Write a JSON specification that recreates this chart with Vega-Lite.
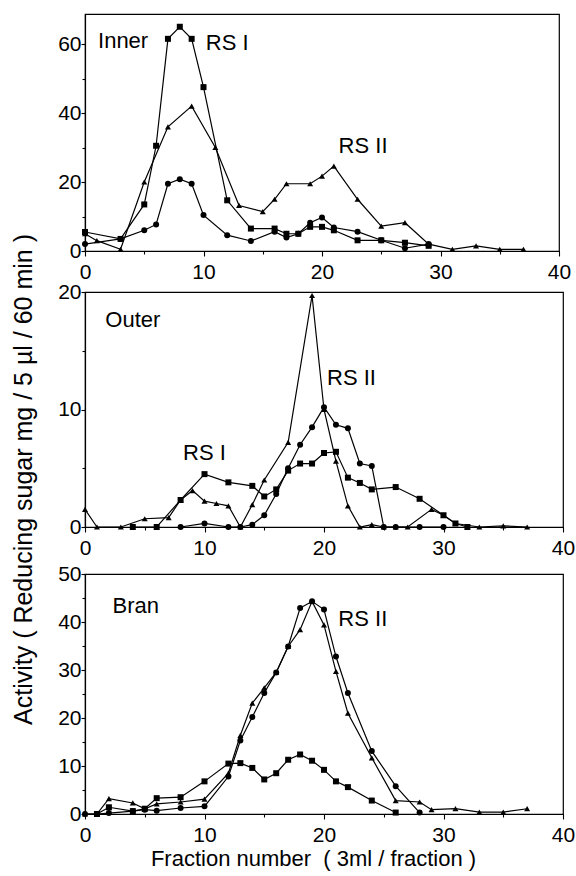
{
  "$schema": "https://vega.github.io/schema/vega-lite/v6.json",
  "padding": {"left": 10, "top": 13, "right": 5, "bottom": 2},
  "background": "white",
  "config": {
    "font": "Liberation Sans",
    "view": {"stroke": "black", "strokeWidth": 1.2},
    "axis": {"grid": false, "domainColor": "black", "domainWidth": 1.2, "tickColor": "black", "tickWidth": 1.1, "labelColor": "black", "labelFontSize": 21, "labelFont": "Liberation Sans", "titleColor": "black", "titleFontWeight": "normal", "titleFontSize": 21, "titleFont": "Liberation Sans", "labelOverlap": false, "labelFlush": false}
  },
  "datasets": {
    "curves": [
      {"panel": "Inner", "series": "sq", "x": 0, "y": 5.5}, {"panel": "Inner", "series": "sq", "x": 3, "y": 3.5}, {"panel": "Inner", "series": "sq", "x": 5, "y": 13.5}, {"panel": "Inner", "series": "sq", "x": 6, "y": 30.5}, {"panel": "Inner", "series": "sq", "x": 7, "y": 61.5}, {"panel": "Inner", "series": "sq", "x": 8, "y": 65}, {"panel": "Inner", "series": "sq", "x": 9, "y": 61.5}, {"panel": "Inner", "series": "sq", "x": 10, "y": 47.5}, {"panel": "Inner", "series": "sq", "x": 12, "y": 14.7}, {"panel": "Inner", "series": "sq", "x": 14, "y": 6.5}, {"panel": "Inner", "series": "sq", "x": 16, "y": 6.5}, {"panel": "Inner", "series": "sq", "x": 17, "y": 5}, {"panel": "Inner", "series": "sq", "x": 18, "y": 5}, {"panel": "Inner", "series": "sq", "x": 19, "y": 7}, {"panel": "Inner", "series": "sq", "x": 20, "y": 7}, {"panel": "Inner", "series": "sq", "x": 21, "y": 6}, {"panel": "Inner", "series": "sq", "x": 23, "y": 3.1}, {"panel": "Inner", "series": "sq", "x": 25, "y": 3.1}, {"panel": "Inner", "series": "sq", "x": 27, "y": 2.4}, {"panel": "Inner", "series": "sq", "x": 29, "y": 1.5},
      {"panel": "Inner", "series": "tri", "x": 0, "y": 5}, {"panel": "Inner", "series": "tri", "x": 1, "y": 3}, {"panel": "Inner", "series": "tri", "x": 3, "y": 0.5}, {"panel": "Inner", "series": "tri", "x": 5, "y": 20}, {"panel": "Inner", "series": "tri", "x": 7, "y": 36}, {"panel": "Inner", "series": "tri", "x": 9, "y": 42}, {"panel": "Inner", "series": "tri", "x": 11, "y": 30}, {"panel": "Inner", "series": "tri", "x": 13, "y": 13.2}, {"panel": "Inner", "series": "tri", "x": 15, "y": 11.4}, {"panel": "Inner", "series": "tri", "x": 16, "y": 15}, {"panel": "Inner", "series": "tri", "x": 17, "y": 19.5}, {"panel": "Inner", "series": "tri", "x": 19, "y": 19.5}, {"panel": "Inner", "series": "tri", "x": 20, "y": 21.7}, {"panel": "Inner", "series": "tri", "x": 21, "y": 24.6}, {"panel": "Inner", "series": "tri", "x": 23, "y": 15}, {"panel": "Inner", "series": "tri", "x": 25, "y": 7.2}, {"panel": "Inner", "series": "tri", "x": 27, "y": 8.2}, {"panel": "Inner", "series": "tri", "x": 29, "y": 2}, {"panel": "Inner", "series": "tri", "x": 31, "y": 0.5}, {"panel": "Inner", "series": "tri", "x": 33, "y": 1.5}, {"panel": "Inner", "series": "tri", "x": 35, "y": 0.5}, {"panel": "Inner", "series": "tri", "x": 37, "y": 0.5},
      {"panel": "Inner", "series": "circ", "x": 0, "y": 2}, {"panel": "Inner", "series": "circ", "x": 3, "y": 3.5}, {"panel": "Inner", "series": "circ", "x": 5, "y": 6}, {"panel": "Inner", "series": "circ", "x": 6, "y": 7.7}, {"panel": "Inner", "series": "circ", "x": 7, "y": 19.5}, {"panel": "Inner", "series": "circ", "x": 8, "y": 20.8}, {"panel": "Inner", "series": "circ", "x": 9, "y": 19.5}, {"panel": "Inner", "series": "circ", "x": 10, "y": 10.4}, {"panel": "Inner", "series": "circ", "x": 12, "y": 4.6}, {"panel": "Inner", "series": "circ", "x": 14, "y": 2.9}, {"panel": "Inner", "series": "circ", "x": 16, "y": 5.6}, {"panel": "Inner", "series": "circ", "x": 17, "y": 3.9}, {"panel": "Inner", "series": "circ", "x": 18, "y": 5}, {"panel": "Inner", "series": "circ", "x": 19, "y": 8.2}, {"panel": "Inner", "series": "circ", "x": 20, "y": 9.7}, {"panel": "Inner", "series": "circ", "x": 21, "y": 6.8}, {"panel": "Inner", "series": "circ", "x": 23, "y": 5.6}, {"panel": "Inner", "series": "circ", "x": 25, "y": 3.1}, {"panel": "Inner", "series": "circ", "x": 27, "y": 0.8}, {"panel": "Inner", "series": "circ", "x": 29, "y": 2},

      {"panel": "Outer", "series": "tri", "x": 0, "y": 1.5}, {"panel": "Outer", "series": "tri", "x": 1, "y": 0}, {"panel": "Outer", "series": "tri", "x": 3, "y": 0}, {"panel": "Outer", "series": "tri", "x": 5, "y": 0.7}, {"panel": "Outer", "series": "tri", "x": 7, "y": 0.8}, {"panel": "Outer", "series": "tri", "x": 8, "y": 2.3}, {"panel": "Outer", "series": "tri", "x": 9, "y": 3.1}, {"panel": "Outer", "series": "tri", "x": 10, "y": 2.2}, {"panel": "Outer", "series": "tri", "x": 11, "y": 2.0}, {"panel": "Outer", "series": "tri", "x": 12, "y": 1.8}, {"panel": "Outer", "series": "tri", "x": 13, "y": 0}, {"panel": "Outer", "series": "tri", "x": 14, "y": 1.9}, {"panel": "Outer", "series": "tri", "x": 15, "y": 4.0}, {"panel": "Outer", "series": "tri", "x": 17, "y": 7.2}, {"panel": "Outer", "series": "tri", "x": 19, "y": 19.7}, {"panel": "Outer", "series": "tri", "x": 20, "y": 10}, {"panel": "Outer", "series": "tri", "x": 21, "y": 5.6}, {"panel": "Outer", "series": "tri", "x": 22, "y": 1.8}, {"panel": "Outer", "series": "tri", "x": 23, "y": 0}, {"panel": "Outer", "series": "tri", "x": 24, "y": 0.2}, {"panel": "Outer", "series": "tri", "x": 25, "y": 0}, {"panel": "Outer", "series": "tri", "x": 26, "y": 0}, {"panel": "Outer", "series": "tri", "x": 27, "y": 0}, {"panel": "Outer", "series": "tri", "x": 29, "y": 1.5}, {"panel": "Outer", "series": "tri", "x": 30, "y": 1.0}, {"panel": "Outer", "series": "tri", "x": 31, "y": 0.3}, {"panel": "Outer", "series": "tri", "x": 33, "y": 0}, {"panel": "Outer", "series": "tri", "x": 35, "y": 0.1}, {"panel": "Outer", "series": "tri", "x": 37, "y": 0},
      {"panel": "Outer", "series": "sq", "x": 4, "y": 0}, {"panel": "Outer", "series": "sq", "x": 6, "y": 0}, {"panel": "Outer", "series": "sq", "x": 8, "y": 2.3}, {"panel": "Outer", "series": "sq", "x": 10, "y": 4.5}, {"panel": "Outer", "series": "sq", "x": 12, "y": 3.8}, {"panel": "Outer", "series": "sq", "x": 14, "y": 3.5}, {"panel": "Outer", "series": "sq", "x": 15, "y": 2.6}, {"panel": "Outer", "series": "sq", "x": 16, "y": 3.2}, {"panel": "Outer", "series": "sq", "x": 17, "y": 4.8}, {"panel": "Outer", "series": "sq", "x": 18, "y": 5.4}, {"panel": "Outer", "series": "sq", "x": 19, "y": 5.4}, {"panel": "Outer", "series": "sq", "x": 20, "y": 6.3}, {"panel": "Outer", "series": "sq", "x": 21, "y": 6.4}, {"panel": "Outer", "series": "sq", "x": 22, "y": 4.2}, {"panel": "Outer", "series": "sq", "x": 23, "y": 3.75}, {"panel": "Outer", "series": "sq", "x": 24, "y": 3.2}, {"panel": "Outer", "series": "sq", "x": 26, "y": 3.4}, {"panel": "Outer", "series": "sq", "x": 28, "y": 2.4}, {"panel": "Outer", "series": "sq", "x": 30, "y": 1.0}, {"panel": "Outer", "series": "sq", "x": 31, "y": 0.3}, {"panel": "Outer", "series": "sq", "x": 32, "y": 0},
      {"panel": "Outer", "series": "circ", "x": 8, "y": 0}, {"panel": "Outer", "series": "circ", "x": 10, "y": 0.3}, {"panel": "Outer", "series": "circ", "x": 12, "y": 0}, {"panel": "Outer", "series": "circ", "x": 13, "y": 0}, {"panel": "Outer", "series": "circ", "x": 14, "y": 0.2}, {"panel": "Outer", "series": "circ", "x": 15, "y": 1.0}, {"panel": "Outer", "series": "circ", "x": 16, "y": 2.8}, {"panel": "Outer", "series": "circ", "x": 17, "y": 5.0}, {"panel": "Outer", "series": "circ", "x": 18, "y": 7.0}, {"panel": "Outer", "series": "circ", "x": 19, "y": 8.5}, {"panel": "Outer", "series": "circ", "x": 20, "y": 10.2}, {"panel": "Outer", "series": "circ", "x": 21, "y": 8.7}, {"panel": "Outer", "series": "circ", "x": 22, "y": 8.4}, {"panel": "Outer", "series": "circ", "x": 23, "y": 5.4}, {"panel": "Outer", "series": "circ", "x": 24, "y": 5.2}, {"panel": "Outer", "series": "circ", "x": 25, "y": 0}, {"panel": "Outer", "series": "circ", "x": 26, "y": 0}, {"panel": "Outer", "series": "circ", "x": 28, "y": 0}, {"panel": "Outer", "series": "circ", "x": 30, "y": 0},

      {"panel": "Bran", "series": "sq", "x": 1, "y": 0}, {"panel": "Bran", "series": "sq", "x": 2, "y": 1.4}, {"panel": "Bran", "series": "sq", "x": 4, "y": 0.6}, {"panel": "Bran", "series": "sq", "x": 5, "y": 1.1}, {"panel": "Bran", "series": "sq", "x": 6, "y": 3.3}, {"panel": "Bran", "series": "sq", "x": 8, "y": 3.5}, {"panel": "Bran", "series": "sq", "x": 10, "y": 6.8}, {"panel": "Bran", "series": "sq", "x": 12, "y": 10.5}, {"panel": "Bran", "series": "sq", "x": 13, "y": 10.6}, {"panel": "Bran", "series": "sq", "x": 14, "y": 9.6}, {"panel": "Bran", "series": "sq", "x": 15, "y": 7.2}, {"panel": "Bran", "series": "sq", "x": 16, "y": 8.5}, {"panel": "Bran", "series": "sq", "x": 17, "y": 11.3}, {"panel": "Bran", "series": "sq", "x": 18, "y": 12.4}, {"panel": "Bran", "series": "sq", "x": 19, "y": 11.1}, {"panel": "Bran", "series": "sq", "x": 20, "y": 9.2}, {"panel": "Bran", "series": "sq", "x": 21, "y": 6.8}, {"panel": "Bran", "series": "sq", "x": 22, "y": 5.6}, {"panel": "Bran", "series": "sq", "x": 24, "y": 2.8}, {"panel": "Bran", "series": "sq", "x": 26, "y": 0.3},
      {"panel": "Bran", "series": "tri", "x": 0, "y": 0}, {"panel": "Bran", "series": "tri", "x": 1, "y": 0}, {"panel": "Bran", "series": "tri", "x": 2, "y": 3.2}, {"panel": "Bran", "series": "tri", "x": 4, "y": 2.3}, {"panel": "Bran", "series": "tri", "x": 5, "y": 1.1}, {"panel": "Bran", "series": "tri", "x": 6, "y": 2.1}, {"panel": "Bran", "series": "tri", "x": 8, "y": 2.5}, {"panel": "Bran", "series": "tri", "x": 10, "y": 3.1}, {"panel": "Bran", "series": "tri", "x": 12, "y": 8.5}, {"panel": "Bran", "series": "tri", "x": 13, "y": 16.4}, {"panel": "Bran", "series": "tri", "x": 14, "y": 23.1}, {"panel": "Bran", "series": "tri", "x": 15, "y": 26.3}, {"panel": "Bran", "series": "tri", "x": 16, "y": 29.5}, {"panel": "Bran", "series": "tri", "x": 17, "y": 34.9}, {"panel": "Bran", "series": "tri", "x": 18, "y": 38.4}, {"panel": "Bran", "series": "tri", "x": 19, "y": 44.3}, {"panel": "Bran", "series": "tri", "x": 20, "y": 39.4}, {"panel": "Bran", "series": "tri", "x": 21, "y": 29.7}, {"panel": "Bran", "series": "tri", "x": 22, "y": 21}, {"panel": "Bran", "series": "tri", "x": 24, "y": 11.7}, {"panel": "Bran", "series": "tri", "x": 26, "y": 2.8}, {"panel": "Bran", "series": "tri", "x": 28, "y": 2.5}, {"panel": "Bran", "series": "tri", "x": 29, "y": 0.9}, {"panel": "Bran", "series": "tri", "x": 31, "y": 1.1}, {"panel": "Bran", "series": "tri", "x": 33, "y": 0.4}, {"panel": "Bran", "series": "tri", "x": 35, "y": 0.4}, {"panel": "Bran", "series": "tri", "x": 37, "y": 1.1},
      {"panel": "Bran", "series": "circ", "x": 0, "y": 0}, {"panel": "Bran", "series": "circ", "x": 1, "y": 0}, {"panel": "Bran", "series": "circ", "x": 2, "y": 0.2}, {"panel": "Bran", "series": "circ", "x": 4, "y": 0.6}, {"panel": "Bran", "series": "circ", "x": 5, "y": 0.9}, {"panel": "Bran", "series": "circ", "x": 6, "y": 0.7}, {"panel": "Bran", "series": "circ", "x": 8, "y": 1.25}, {"panel": "Bran", "series": "circ", "x": 10, "y": 1.6}, {"panel": "Bran", "series": "circ", "x": 12, "y": 7.8}, {"panel": "Bran", "series": "circ", "x": 13, "y": 15.3}, {"panel": "Bran", "series": "circ", "x": 14, "y": 20.2}, {"panel": "Bran", "series": "circ", "x": 15, "y": 25.2}, {"panel": "Bran", "series": "circ", "x": 16, "y": 29.5}, {"panel": "Bran", "series": "circ", "x": 17, "y": 34.9}, {"panel": "Bran", "series": "circ", "x": 18, "y": 42.9}, {"panel": "Bran", "series": "circ", "x": 19, "y": 44.3}, {"panel": "Bran", "series": "circ", "x": 20, "y": 42.6}, {"panel": "Bran", "series": "circ", "x": 21, "y": 32.8}, {"panel": "Bran", "series": "circ", "x": 22, "y": 25.2}, {"panel": "Bran", "series": "circ", "x": 24, "y": 13.1}, {"panel": "Bran", "series": "circ", "x": 26, "y": 5.8}, {"panel": "Bran", "series": "circ", "x": 28, "y": 0.3}
    ],
    "notes": [
      {"panel": "Inner", "label": "Inner", "x": 1.1, "y": 61},
      {"panel": "Inner", "label": "RS I", "x": 10.2, "y": 60.3},
      {"panel": "Inner", "label": "RS II", "x": 21.4, "y": 30.4},
      {"panel": "Outer", "label": "Outer", "x": 1.7, "y": 17.6},
      {"panel": "Outer", "label": "RS I", "x": 8.2, "y": 6.3},
      {"panel": "Outer", "label": "RS II", "x": 20.25, "y": 12.7},
      {"panel": "Bran", "label": "Bran", "x": 2.3, "y": 43.3},
      {"panel": "Bran", "label": "RS II", "x": 21.2, "y": 40.6}
    ]
  },
  "spacing": 41,
  "bounds": "flush",
  "vconcat": [
    {
      "width": 474, "height": 237,
      "encoding": {
        "x": {"field": "x", "type": "quantitative", "scale": {"domain": [0, 40], "nice": false, "zero": false},
              "axis": {"values": [0, 5, 10, 15, 20, 25, 30, 35, 40], "labelExpr": "datum.value % 10 === 0 ? datum.label : ''", "tickSize": {"condition": {"test": "datum.value % 10 === 0", "value": 5}, "value": 3}, "labelPadding": 5, "title": null}},
        "y": {"field": "y", "type": "quantitative", "scale": {"domain": [0, 68.7], "nice": false},
              "axis": {"values": [0, 10, 20, 30, 40, 50, 60], "labelExpr": "datum.value % 20 === 0 ? datum.label : ''", "tickSize": {"condition": {"test": "datum.value % 20 === 0", "value": 4}, "value": 3}, "labelPadding": 0, "title": null}}
      },
      "layer": [
        {"data": {"name": "curves"}, "transform": [{"filter": "datum.panel === 'Inner'"}], "mark": {"type": "line", "color": "black", "strokeWidth": 1.2}, "encoding": {"detail": {"field": "series"}}},
        {"data": {"name": "curves"}, "transform": [{"filter": "datum.panel === 'Inner'"}], "mark": {"type": "point", "filled": true, "color": "black", "opacity": 1, "size": 36}, "encoding": {"shape": {"field": "series", "scale": {"domain": ["sq", "tri", "circ"], "range": ["square", "triangle-up", "circle"]}, "legend": null}}},
        {"data": {"name": "notes"}, "transform": [{"filter": "datum.panel === 'Inner'"}], "mark": {"type": "text", "align": "left", "baseline": "middle", "fontSize": 22, "font": "Liberation Sans", "color": "black"}, "encoding": {"text": {"field": "label"}}}
      ]
    },
    {
      "spacing": 47,
      "bounds": "flush",
      "vconcat": [
        {
          "width": 478, "height": 235,
          "encoding": {
            "x": {"field": "x", "type": "quantitative", "scale": {"domain": [0, 40], "nice": false, "zero": false},
                  "axis": {"values": [0, 5, 10, 15, 20, 25, 30, 35, 40], "labelExpr": "datum.value % 10 === 0 ? datum.label : ''", "tickSize": {"condition": {"test": "datum.value % 10 === 0", "value": 5}, "value": 3}, "labelPadding": 5, "title": null}},
            "y": {"field": "y", "type": "quantitative", "scale": {"domain": [0, 20], "nice": false},
                  "axis": {"values": [0, 5, 10, 15, 20], "labelExpr": "datum.value % 10 === 0 ? datum.label : ''", "tickSize": {"condition": {"test": "datum.value % 10 === 0", "value": 4}, "value": 3}, "labelPadding": 0,
                           "title": "Activity ( Reducing sugar mg / 5 µl / 60 min )", "titleX": -62, "titleY": 187, "titleAngle": 270, "titleBaseline": "middle", "titleFontSize": 25}}
          },
          "layer": [
            {"data": {"name": "curves"}, "transform": [{"filter": "datum.panel === 'Outer'"}], "mark": {"type": "line", "color": "black", "strokeWidth": 1.2}, "encoding": {"detail": {"field": "series"}}},
            {"data": {"name": "curves"}, "transform": [{"filter": "datum.panel === 'Outer'"}], "mark": {"type": "point", "filled": true, "color": "black", "opacity": 1, "size": 36}, "encoding": {"shape": {"field": "series", "scale": {"domain": ["sq", "tri", "circ"], "range": ["square", "triangle-up", "circle"]}, "legend": null}}},
            {"data": {"name": "notes"}, "transform": [{"filter": "datum.panel === 'Outer'"}], "mark": {"type": "text", "align": "left", "baseline": "middle", "fontSize": 22, "font": "Liberation Sans", "color": "black"}, "encoding": {"text": {"field": "label"}}}
          ]
        },
        {
          "width": 478, "height": 240,
          "encoding": {
            "x": {"field": "x", "type": "quantitative", "scale": {"domain": [0, 40], "nice": false, "zero": false},
                  "axis": {"values": [0, 5, 10, 15, 20, 25, 30, 35, 40], "labelExpr": "datum.value % 10 === 0 ? datum.label : ''", "tickSize": {"condition": {"test": "datum.value % 10 === 0", "value": 5}, "value": 3}, "labelPadding": 5,
                           "title": "Fraction number\u00a0\u00a0( 3ml / fraction )", "titlePadding": 3, "titleFontSize": 22, "titleX": 228}},
            "y": {"field": "y", "type": "quantitative", "scale": {"domain": [0, 50], "nice": false},
                  "axis": {"values": [0, 5, 10, 15, 20, 25, 30, 35, 40, 45, 50], "labelExpr": "datum.value % 10 === 0 ? datum.label : ''", "tickSize": {"condition": {"test": "datum.value % 10 === 0", "value": 4}, "value": 3}, "labelPadding": 0, "title": null}}
          },
          "layer": [
            {"data": {"name": "curves"}, "transform": [{"filter": "datum.panel === 'Bran'"}], "mark": {"type": "line", "color": "black", "strokeWidth": 1.2}, "encoding": {"detail": {"field": "series"}}},
            {"data": {"name": "curves"}, "transform": [{"filter": "datum.panel === 'Bran'"}], "mark": {"type": "point", "filled": true, "color": "black", "opacity": 1, "size": 36}, "encoding": {"shape": {"field": "series", "scale": {"domain": ["sq", "tri", "circ"], "range": ["square", "triangle-up", "circle"]}, "legend": null}}},
            {"data": {"name": "notes"}, "transform": [{"filter": "datum.panel === 'Bran'"}], "mark": {"type": "text", "align": "left", "baseline": "middle", "fontSize": 22, "font": "Liberation Sans", "color": "black"}, "encoding": {"text": {"field": "label"}}}
          ]
        }
      ]
    }
  ]
}
